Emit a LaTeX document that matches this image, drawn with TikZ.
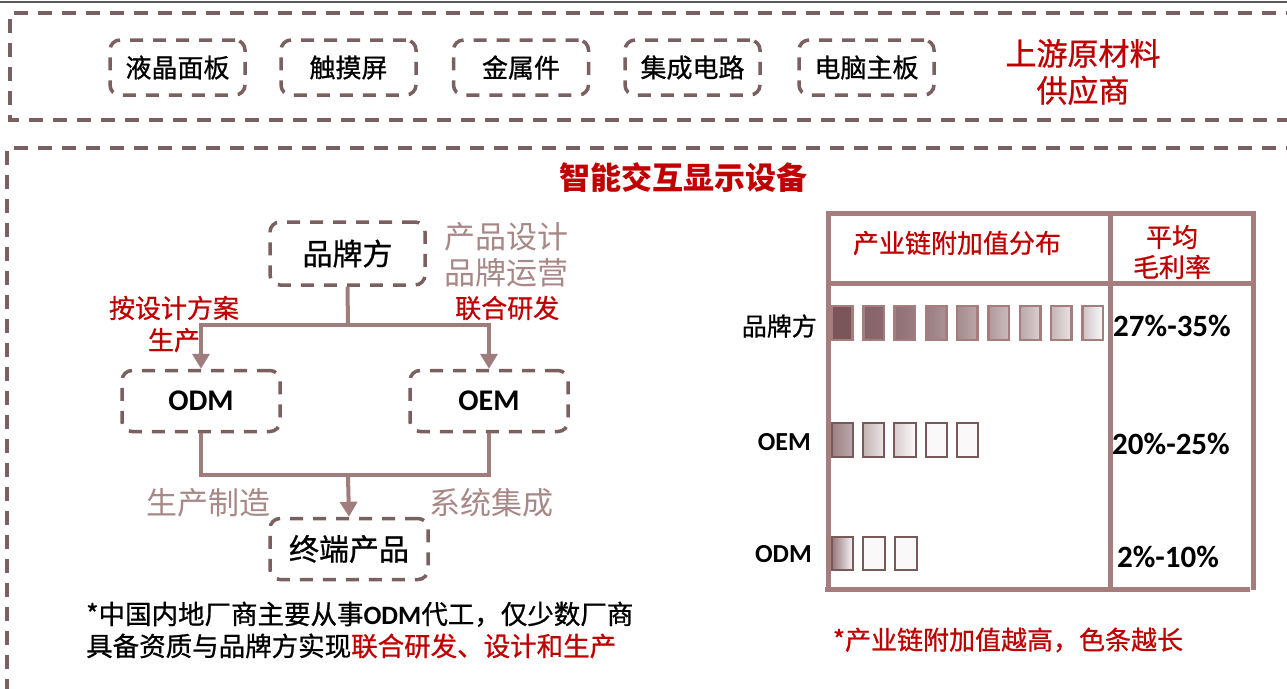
\documentclass[tikz,border=0pt]{standalone}
\usepackage{fontspec}
\setmainfont{Noto Sans CJK SC}
\newfontfamily\medf{Noto Sans CJK SC}[FakeBold=0.8]
\newfontfamily\lat{Carlito}
\usetikzlibrary{arrows.meta}
\definecolor{dashc}{RGB}{122,96,96}
\definecolor{arrc}{RGB}{160,125,125}
\definecolor{graytext}{RGB}{168,135,135}
\definecolor{redc}{RGB}{192,0,0}
\definecolor{tabc}{RGB}{165,125,125}
\definecolor{barc}{RGB}{122,85,90}
\definecolor{bard}{RGB}{120,90,90}
\begin{document}
\begin{tikzpicture}[x=1pt,y=-1pt,
  dbox/.style={draw=dashc, line width=3.5pt, dash pattern=on 13pt off 10pt, rounded corners=10pt},
  topbox/.style={dbox, minimum width=135pt, minimum height=55pt, inner sep=0pt, font=\medf\fontsize{26}{30}\selectfont},
  flowbox/.style={dbox, minimum width=158pt, minimum height=61pt, inner sep=0pt, font=\medf\fontsize{30}{34}\selectfont},
  outer/.style={draw=dashc, line width=3.5pt, dash pattern=on 14pt off 10pt},
  arr/.style={draw=arrc, line width=4pt},
  arrt/.style={arr, -{Triangle[length=15pt,width=17pt]}},
  redtxt/.style={text=redc, inner sep=0pt},
  graytxt/.style={text=graytext, inner sep=0pt, font=\fontsize{31}{36}\selectfont},
  tab/.style={draw=tabc, line width=5pt},
  bar1/.style={draw=tabc, line width=2.5pt},
  bar2/.style={draw=bard, line width=2.5pt},
  pct/.style={inner sep=0pt, font=\lat\bfseries\fontsize{31}{34}\selectfont},
  rowlab/.style={inner sep=0pt, anchor=east}
]
\useasboundingbox (0,0) rectangle (1287,688);
\clip (0,0) rectangle (1287,688);
\fill[white] (0,0) rectangle (1287,688);
\draw[black!65, line width=1.5pt] (0,2) -- (1287,2);

% outer dashed frames
\draw[outer] (1300,13) -- (10,13) -- (10,120) -- (1300,120);
\draw[outer] (1300,148) -- (7,148) -- (7,700);

% upstream boxes
\node[topbox] (lcd) at (177.5,67.5) {液晶面板};
\node[topbox] (touch) at (348.5,67.5) {触摸屏};
\node[topbox] (metal) at (521,67.5) {金属件};
\node[topbox] (ic) at (692.5,67.5) {集成电路};
\node[topbox] (mb) at (866.5,67.5) {电脑主板};
\node[redtxt, align=center, font=\medf\fontsize{31}{37}\selectfont] (up) at (1083,72) {上游原材料\\供应商};

% title
\node[redtxt, font=\bfseries\fontsize{31}{36}\selectfont] (title) at (683,178) {智能交互显示设备};

% flow chart
\node[flowbox, minimum width=155pt, minimum height=63pt] (brand) at (347.5,253.5) {品牌方};
\node[flowbox, font=\lat\bfseries\fontsize{30}{34}\selectfont] (odm) at (201,401) {ODM};
\node[flowbox, font=\lat\bfseries\fontsize{30}{34}\selectfont] (oem) at (489,401) {OEM};
\node[flowbox] (endp) at (349,549) {终端产品};

\coordinate (split) at (348,325);
\coordinate (merge) at (348,475);
\draw[arr] (brand.south) -- (split);
\draw[arrt] ([xshift=2pt]split) -| (odm.north);
\draw[arrt] ([xshift=-2pt]split) -| (oem.north);
\draw[arr] (odm.south) |- (merge);
\draw[arr] (oem.south) |- (merge);
\draw[arrt] ([yshift=-2pt]merge) -- (endp.north);

\node[graytxt, anchor=west, align=left] (brandtxt) at (444,255) {产品设计\\品牌运营};
\node[redtxt, align=center, font=\medf\fontsize{26}{32}\selectfont] (odmtxt) at (174,324) {按设计方案\\生产};
\node[redtxt, anchor=west, font=\medf\fontsize{26}{30}\selectfont] (oemtxt) at (455,308) {联合研发};
\node[graytxt] (mfg) at (208,503) {生产制造};
\node[graytxt] (sys) at (491,503) {系统集成};

\node[inner sep=0pt, anchor=west, align=left, font=\medf\fontsize{26.5}{32}\selectfont] (note) at (86,630)
  {*中国内地厂商主要从事{\lat\bfseries ODM}代工，仅少数厂商\\具备资质与品牌方实现\textcolor{redc}{联合研发、设计和生产}};

% table
\draw[tab] (828,590) -- (828,213) -- (1253,213) -- (1253,590);
\draw[tab] (828,283) -- (1253,283);
\draw[tab] (1110,213) -- (1110,590);
\draw[tab] (825,589) -- (1250,589);
\node[redtxt, font=\medf\fontsize{26}{30}\selectfont] (hdr1) at (957,243) {产业链附加值分布};
\node[redtxt, align=center, font=\medf\fontsize{26}{30}\selectfont] (hdr2) at (1172,252) {平均\\毛利率};

\node[rowlab, font=\medf\fontsize{25}{30}\selectfont] (rbrand) at (817,326) {品牌方};
\node[rowlab, font=\lat\bfseries\fontsize{26}{30}\selectfont] (roem) at (811,442) {OEM};
\node[rowlab, font=\lat\bfseries\fontsize{26}{30}\selectfont] (rodm) at (812,554) {ODM};

\node[pct] (p1) at (1172,326) {27\%-35\%};
\node[pct] (p2) at (1171,444) {20\%-25\%};
\node[pct] (p3) at (1168,557) {2\%-10\%};

% bars row 1
\foreach \i in {0,...,8} {
  \pgfmathsetmacro{\xa}{832+31.3*\i}
  \pgfmathsetmacro{\xb}{\xa+20.5}
  \pgfmathtruncatemacro{\la}{100-8*\i}
  \pgfmathtruncatemacro{\ra}{max(100-12*\i,4)}
  \draw[bar1, left color=barc!\la, right color=barc!\ra] (\xa,306) rectangle (\xb,340);
}
% bars row 2
\draw[bar2, left color=barc!75, right color=barc!50] (832,423) rectangle (853,457);
\draw[bar2, left color=barc!45, right color=barc!15] (863,423) rectangle (884,457);
\draw[bar2, left color=barc!30, right color=barc!3] (894,423) rectangle (916,457);
\draw[bar2, fill=barc!4] (926,423) rectangle (947,457);
\draw[bar2, fill=barc!4] (957,423) rectangle (978,457);
% bars row 3
\draw[bar2, left color=barc!80, right color=barc!5] (832,537) rectangle (853,570);
\draw[bar2, fill=barc!4] (863,537) rectangle (885,570);
\draw[bar2, fill=barc!4] (895,537) rectangle (917,570);

\node[redtxt, font=\medf\fontsize{26}{30}\selectfont] (foot) at (1008,640) {*产业链附加值越高，色条越长};
\end{tikzpicture}
\end{document}
